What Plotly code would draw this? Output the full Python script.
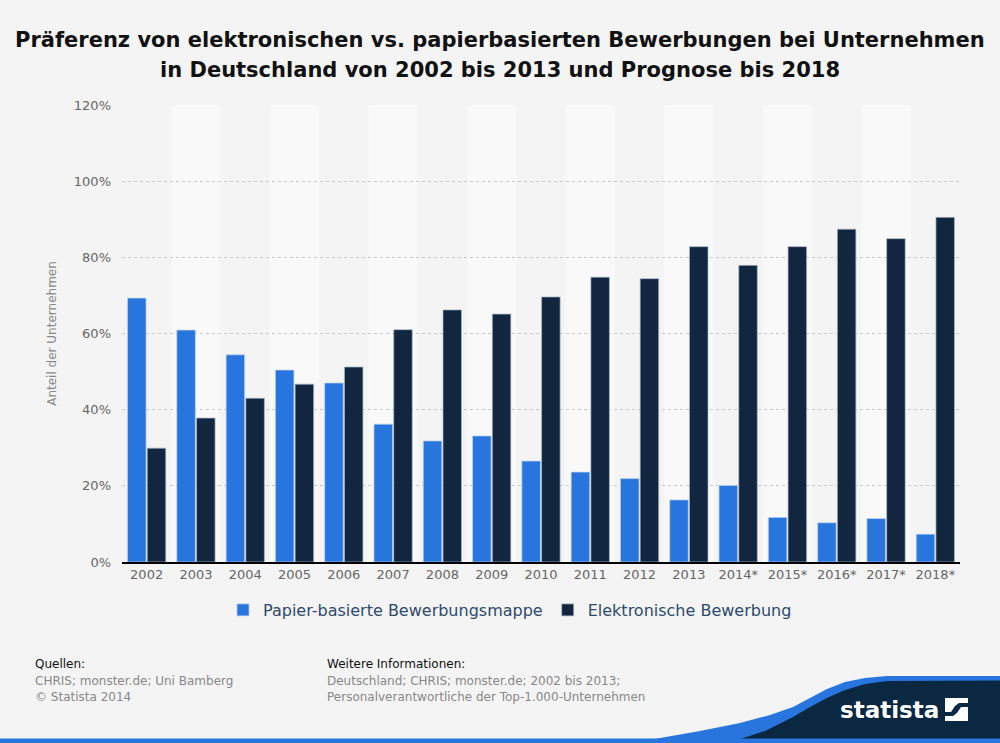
import plotly.graph_objects as go

years = ["2002", "2003", "2004", "2005", "2006", "2007", "2008", "2009", "2010",
         "2011", "2012", "2013", "2014*", "2015*", "2016*", "2017*", "2018*"]
paper_based = [69.3, 60.9, 54.4, 50.4, 47.0, 36.2, 31.8, 33.1, 26.5,
               23.6, 21.9, 16.3, 20.1, 11.7, 10.3, 11.4, 7.3]
electronic = [29.9, 37.8, 43.0, 46.7, 51.2, 61.0, 66.2, 65.1, 69.6,
              74.8, 74.4, 82.8, 77.9, 82.8, 87.4, 84.9, 90.5]
series_names = ["Papier-basierte Bewerbungsmappe", "Elektronische Bewerbung"]
y_ticks = [0, 20, 40, 60, 80, 100, 120]
y_tick_labels = [f"{v}%" for v in y_ticks]
title_lines = ["Präferenz von elektronischen vs. papierbasierten Bewerbungen bei Unternehmen",
               "in Deutschland von 2002 bis 2013 und Prognose bis 2018"]

W, H = 1000, 743
L, R, T, B = 122, 40, 105, 181
PW, PH = W - L - R, H - T - B


def px(x):
    return (x - L) / PW


def py(y):
    return (H - B - y) / PH


def poly(points):
    s = "M" + " L".join(f"{px(a):.5f},{py(b):.5f}" for a, b in points)
    return s + " Z"


fig = go.Figure()
fig.add_trace(go.Bar(x=years, y=paper_based, name=series_names[0],
                     marker=dict(color="#2876dd", line=dict(color="rgba(190,210,235,0.7)", width=1))))
fig.add_trace(go.Bar(x=years, y=electronic, name=series_names[1],
                     marker=dict(color="#12273f", line=dict(color="rgba(170,185,200,0.7)", width=1))))

shapes = []
for i in range(len(years)):
    if i % 2 == 1:
        shapes.append(dict(type="rect", xref="x", yref="paper", x0=i - 0.5, x1=i + 0.5,
                           y0=0, y1=1, fillcolor="#f9f9f9", line=dict(width=0), layer="below"))

# footer decoration (statista logo band)
blue_edge = [(630, 744), (660, 738), (700, 731), (740, 723), (770, 715), (793, 707), (810, 698),
             (827, 689), (845, 682), (865, 678), (887, 676), (1001, 676), (1001, 744)]
dark_edge = [(712, 744), (740, 739), (765, 731), (793, 717), (810, 707), (827, 698), (845, 690),
             (865, 684), (887, 681), (1001, 680.5), (1001, 744)]
shapes.append(dict(type="path", xref="paper", yref="paper", path=poly(blue_edge),
                   fillcolor="#2876dd", line=dict(width=0), layer="above"))
shapes.append(dict(type="path", xref="paper", yref="paper", path=poly(dark_edge),
                   fillcolor="#0a2842", line=dict(width=0), layer="above"))
shapes.append(dict(type="rect", xref="paper", yref="paper", x0=px(-1), x1=px(1001), y0=py(744), y1=py(738.5),
                   fillcolor="#2876dd", line=dict(width=0), layer="above"))
# icon
shapes.append(dict(type="rect", xref="paper", yref="paper", x0=px(945), x1=px(968), y0=py(721), y1=py(698),
                   fillcolor="white", line=dict(width=0), layer="above"))
shapes.append(dict(type="path", xref="paper", yref="paper",
                   path=poly([(945, 712), (951, 712), (955, 706), (959, 703), (968, 703),
                              (968, 707), (961, 707), (957, 713), (953, 716), (945, 716)]),
                   fillcolor="#0a2842", line=dict(width=0), layer="above"))

annotations = [
    dict(text=f"<b>{title_lines[0]}</b>", x=px(500), y=py(40), xref="paper", yref="paper",
         xanchor="center", yanchor="middle", showarrow=False, font=dict(size=21, color="#111")),
    dict(text=f"<b>{title_lines[1]}</b>", x=px(500), y=py(70), xref="paper", yref="paper",
         xanchor="center", yanchor="middle", showarrow=False, font=dict(size=21, color="#111")),
    dict(text="Quellen:", x=px(33), y=py(664), xref="paper", yref="paper", xanchor="left",
         yanchor="middle", showarrow=False, font=dict(size=12, color="#111")),
    dict(text="CHRIS; monster.de; Uni Bamberg", x=px(33), y=py(681), xref="paper", yref="paper",
         xanchor="left", yanchor="middle", showarrow=False, font=dict(size=12, color="#888")),
    dict(text="© Statista 2014", x=px(33), y=py(697), xref="paper", yref="paper",
         xanchor="left", yanchor="middle", showarrow=False, font=dict(size=12, color="#888")),
    dict(text="Weitere Informationen:", x=px(325), y=py(664), xref="paper", yref="paper",
         xanchor="left", yanchor="middle", showarrow=False, font=dict(size=12, color="#111")),
    dict(text="Deutschland; CHRIS; monster.de; 2002 bis 2013;", x=px(325), y=py(681), xref="paper",
         yref="paper", xanchor="left", yanchor="middle", showarrow=False, font=dict(size=12, color="#888")),
    dict(text="Personalverantwortliche der Top-1.000-Unternehmen", x=px(325), y=py(697), xref="paper",
         yref="paper", xanchor="left", yanchor="middle", showarrow=False, font=dict(size=12, color="#888")),
    dict(text="<b>statista</b>", x=px(889), y=py(710), xref="paper", yref="paper", xanchor="center",
         yanchor="middle", showarrow=False, font=dict(size=23, color="white", family="DejaVu Sans")),
]

fig.update_layout(
    width=W, height=H,
    margin=dict(l=L, r=R, t=T, b=B, autoexpand=False),
    paper_bgcolor="#f4f4f4", plot_bgcolor="#f4f4f4",
    font=dict(family="DejaVu Sans", color="#666"),
    barmode="group", bargap=0.2, bargroupgap=0.06,
    showlegend=True,
    legend=dict(orientation="h", x=px(510), xanchor="center", y=py(610), yanchor="middle",
                font=dict(size=16, color="#2c4a6e"), bgcolor="rgba(0,0,0,0)", itemwidth=30),
    xaxis=dict(type="category", showline=True, linecolor="#000", linewidth=1.5, ticks="",
               tickfont=dict(size=13, color="#666"), showgrid=False),
    yaxis=dict(range=[0, 120], tickmode="array", tickvals=y_ticks, ticktext=y_tick_labels,
               showgrid=True, gridcolor="#c8c8c8", ticklabelstandoff=10,
               griddash="dot", gridwidth=1, zeroline=False, tickfont=dict(size=13, color="#666"),
               title=dict(text="Anteil der Unternehmen", font=dict(size=12, color="#888"), standoff=14)),
    shapes=shapes, annotations=annotations,
)

fig.write_html("out.html", config={"displayModeBar": False},
               post_script="document.body.style.margin='0';")
